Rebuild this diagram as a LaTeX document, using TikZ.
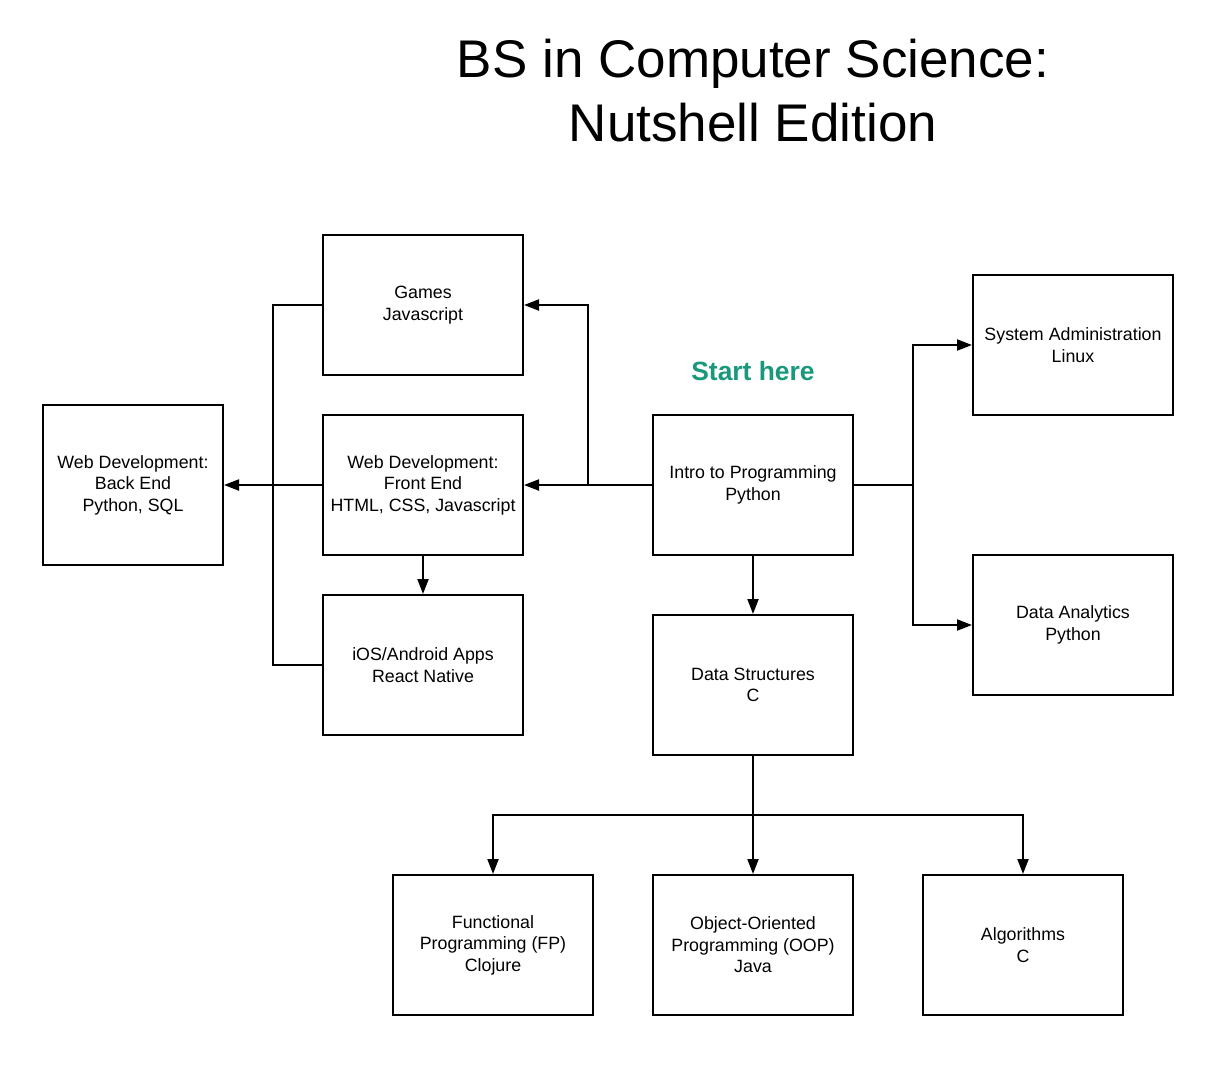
\documentclass[tikz,border=0pt]{standalone}
\usepackage{fontspec}
\setmainfont{Liberation Sans}
\usetikzlibrary{arrows.meta}
\definecolor{startteal}{RGB}{26,152,124}
\begin{document}
\begin{tikzpicture}[x=1pt,y=-1pt,
  box/.style={draw=black,line width=2pt,minimum width=200pt,minimum height=140pt,align=center,font=\fontsize{17.8}{21.5}\selectfont,inner sep=2pt},
  conn/.style={line width=2pt,draw=black},
  arr/.style={conn,-{Triangle[length=15pt,width=11pt]}}]
\fill[white] (0,0) rectangle (1223,1069);
\useasboundingbox (0,0) rectangle (1223,1069);
\node[font=\fontsize{53}{64}\selectfont,align=center] (title) at (753,91) {BS in Computer Science:\\Nutshell Edition};
\node[font=\fontsize{26.4}{30}\selectfont\bfseries,text=startteal] (start) at (753,371) {Start here};
\node[box] (games) at (423,305) {Games\\Javascript};
\node[box] (front) at (423,485) {Web Development:\\Front End\\HTML, CSS, Javascript};
\node[box] (ios) at (423,665) {iOS/Android Apps\\React Native};
\node[box,minimum width=180pt,minimum height=160pt] (back) at (133,485) {Web Development:\\Back End\\Python, SQL};
\node[box] (intro) at (753,485) {Intro to Programming\\Python};
\node[box] (ds) at (753,685) {Data Structures\\C};
\node[box] (sys) at (1073,345) {System Administration\\Linux};
\node[box] (ana) at (1073,625) {Data Analytics\\Python};
\node[box] (fp) at (493,945) {Functional\\Programming (FP)\\Clojure};
\node[box] (oop) at (753,945) {Object-Oriented\\Programming (OOP)\\Java};
\node[box] (alg) at (1023,945) {Algorithms\\C};
\coordinate (j1) at (588,485);
\coordinate (j2) at (913,485);
\coordinate (j3) at (753,815);
\coordinate (j4) at (273,305);
\coordinate (j5) at (273,665);
\draw[arr] (intro.west) -- (front.east);
\draw[arr] (j1) |- (games.east);
\draw[conn] (intro.east) -- (j2);
\draw[arr] (j2) |- (sys.west);
\draw[arr] (j2) |- (ana.west);
\draw[arr] (intro.south) -- (ds.north);
\draw[conn] (ds.south) -- (j3);
\draw[arr] (j3) -| (fp.north);
\draw[arr] (j3) -- (oop.north);
\draw[arr] (j3) -| (alg.north);
\draw[arr] (front.south) -- (ios.north);
\draw[arr] (front.west) -- (back.east);
\draw[conn] (games.west) -- (j4) -- (j5) -- (ios.west);
\end{tikzpicture}
\end{document}
